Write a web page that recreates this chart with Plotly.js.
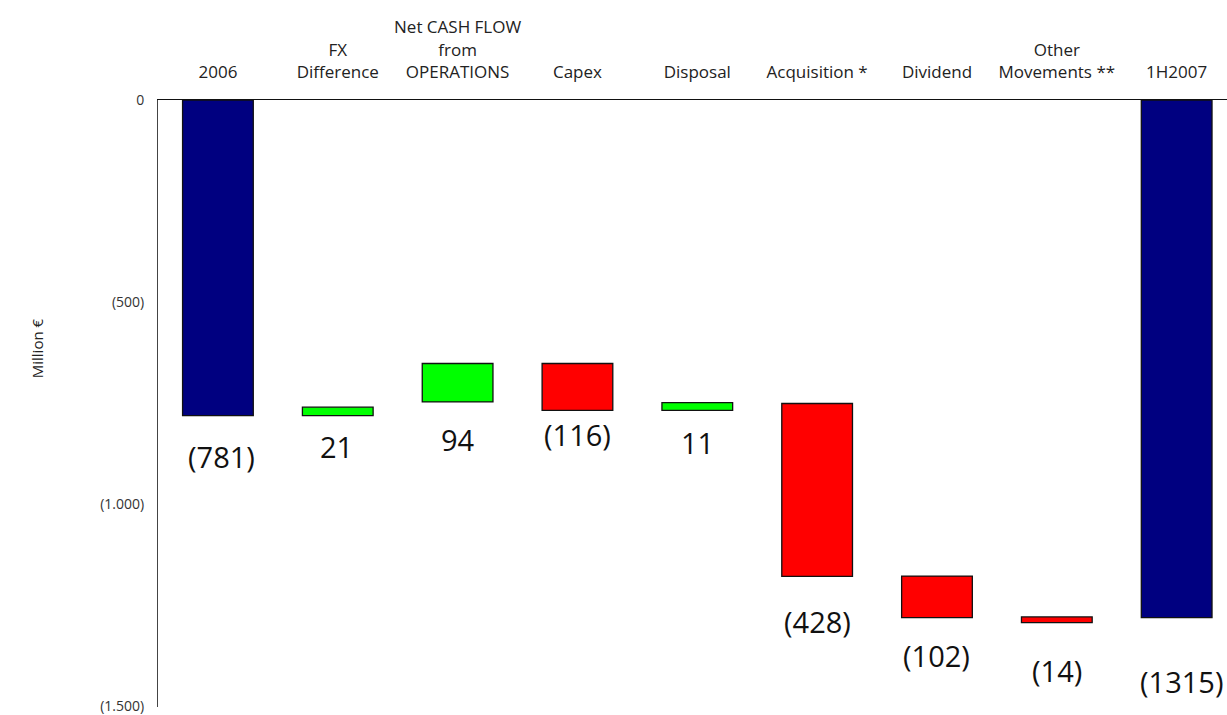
<!DOCTYPE html>
<html>
<head>
<meta charset="utf-8">
<script src="https://cdn.plot.ly/plotly-3.0.1.min.js"></script>
<style>html,body{margin:0;padding:0;background:#fff}#chart{width:1227px;height:715px}</style>
</head>
<body>
<div id="chart"></div>
<script>
// Categories (top axis labels)
const categories = ["2006", "FX<br>Difference", "Net CASH FLOW<br>from<br>OPERATIONS", "Capex", "Disposal", "Acquisition *", "Dividend", "Other<br>Movements **", "1H2007"];
// Bar start and end values (million €)
const barStart = [0, -781, -747, -652, -768, -751, -1178, -1279, 0];
const barEnd   = [-781, -760, -652, -768, -749, -1179, -1281, -1293, -1281];
// Printed value labels
const valueLabels = ["(781)", "21", "94", "(116)", "11", "(428)", "(102)", "(14)", "(1315)"];
// Bar kind: total / increase / decrease
const barKind = ["total", "up", "up", "down", "up", "down", "down", "down", "total"];
// Y tick values and labels
const yTickVals = [0, -500, -1000, -1500];
const yTickText = ["0", "(500)", "(1.000)", "(1.500)"];
const yTitle = "Million €";

// styling
const kindColor = {total: "#000080", up: "#00ff00", down: "#ff0000"};
const labelGap = [41, 31, 38, 24, 32, 45, 38, 48, 64];
const labelNudge = [4, -1, 0, 0, 0, 0, 0, 0, 5];

const xIdx = categories.map((_, i) => i);
const trace = {
  type: "bar",
  x: xIdx,
  base: barStart,
  y: barEnd.map((e, i) => e - barStart[i]),
  width: 0.59,
  marker: {color: barKind.map(k => kindColor[k]), line: {color: "#111", width: 1.3}},
  hoverinfo: "skip"
};

const annotations = valueLabels.map((t, i) => ({
  x: i, y: Math.min(barStart[i], barEnd[i]), xref: "x", yref: "y",
  text: t, showarrow: false, yanchor: "middle", xanchor: "center",
  yshift: -labelGap[i], xshift: labelNudge[i],
  font: {family: "Open Sans", size: 29, color: "#111"}
}));
annotations.push({
  xref: "paper", yref: "paper", x: -0.1132, y: 0.591,
  text: yTitle, textangle: -90, showarrow: false,
  xanchor: "center", yanchor: "middle",
  font: {family: "Open Sans", size: 15, color: "#222"}
});

const layout = {
  width: 1227, height: 715,
  margin: {l: 158, r: 0, t: 100, b: 8},
  paper_bgcolor: "#fff", plot_bgcolor: "#fff",
  showlegend: false,
  bargap: 0,
  xaxis: {
    side: "top", range: [-0.5, 8.42],
    tickmode: "array", tickvals: xIdx, ticktext: categories,
    ticks: "", showgrid: false, zeroline: false,
    showline: true, linecolor: "#111", linewidth: 1.5,
    tickfont: {family: "Open Sans", size: 17, color: "#222"},
    ticklabelstandoff: 14
  },
  yaxis: {
    range: [-1502, 0], tickmode: "array", tickvals: yTickVals, ticktext: yTickText,
    ticks: "", showgrid: false, zeroline: false,
    showline: true, linecolor: "#444", linewidth: 1,
    tickfont: {family: "Open Sans", size: 14, color: "#333"},
    ticklabelstandoff: 10,
    ticklabeloverflow: "allow"
  },
  annotations: annotations
};

Plotly.newPlot("chart", [trace], layout, {displayModeBar: false, staticPlot: true});
</script>
</body>
</html>
